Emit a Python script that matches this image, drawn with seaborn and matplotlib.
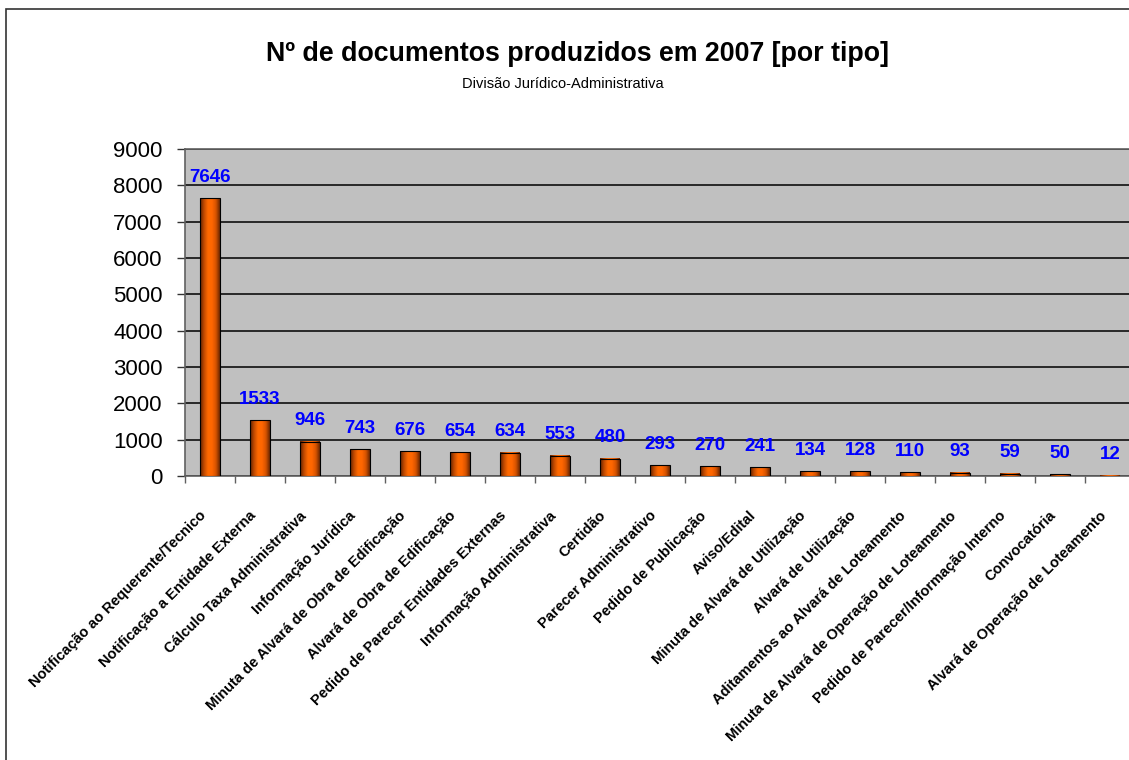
import numpy as np
import pandas as pd
import matplotlib
matplotlib.use('Agg')
import matplotlib.pyplot as plt
import seaborn as sns
from matplotlib.colors import LinearSegmentedColormap
from matplotlib.patches import Rectangle
from matplotlib.ticker import FixedLocator
from matplotlib.transforms import ScaledTranslation

categories = [
    'Notificação ao Requerente/Tecnico',
    'Notificação a Entidade Externa',
    'Cálculo Taxa Administrativa',
    'Informação Jurídica',
    'Minuta de Alvará de Obra de Edificação',
    'Alvará de Obra de Edificação',
    'Pedido de Parecer Entidades Externas',
    'Informação Administrativa',
    'Certidão',
    'Parecer Administrativo',
    'Pedido de Publicação',
    'Aviso/Edital',
    'Minuta de Alvará de Utilização',
    'Alvará de Utilização',
    'Aditamentos ao Alvará de Loteamento',
    'Minuta de Alvará de Operação de Loteamento',
    'Pedido de Parecer/Informação Interno',
    'Convocatória',
    'Alvará de Operação de Loteamento',
]
counts = [7646, 1533, 946, 743, 676, 654, 634, 553, 480, 293,
          270, 241, 134, 128, 110, 93, 59, 50, 12]
y_ticks = [0, 1000, 2000, 3000, 4000, 5000, 6000, 7000, 8000, 9000]

df = pd.DataFrame({'tipo': categories, 'n': counts})

sns.set_style('white')
plt.rcParams['font.family'] = ['Liberation Sans', 'DejaVu Sans']
plt.rcParams['text.color'] = 'black'
plt.rcParams['xtick.color'] = 'black'
plt.rcParams['ytick.color'] = 'black'

W, H = 1129, 760
fig = plt.figure(figsize=(W / 100, H / 100), dpi=100)
fig.patch.set_facecolor('white')

# outer chart border (the chart is cut on the right/bottom)
fig.patches.append(Rectangle((6 / W, -0.1), 1.2, 1 - 9.5 / H + 0.1,
                             transform=fig.transFigure, fill=False,
                             edgecolor='#333333', linewidth=1.2))

ax = fig.add_axes([185 / W, (H - 476) / H, 950 / W, 327 / H])
ax.set_facecolor('#C0C0C0')

sns.barplot(data=df, x='tipo', y='n', ax=ax, width=0.4,
            color='#FF6600', edgecolor='black', linewidth=0.8,
            saturation=1, zorder=3)

# shaded bars (dark edges, bright centre)
cmap = LinearSegmentedColormap.from_list(
    'bar', ['#5c2200', '#c24a00', '#ff6a00', '#ff6600', '#d85400', '#6a2600'])
grad = np.linspace(0, 1, 64).reshape(1, -1)
for p in ax.patches:
    x0, w, h = p.get_x(), p.get_width(), p.get_height()
    ax.imshow(grad, extent=[x0, x0 + w, 0, h], aspect='auto', cmap=cmap,
              zorder=2.9, interpolation='bicubic')
    p.set_facecolor('none')

ax.set_xlim(-0.5, len(categories) - 0.5)
ax.set_ylim(0, 9000)
ax.set_yticks(y_ticks)
ax.yaxis.grid(True, color='black', linewidth=1.1)
ax.set_axisbelow(True)

for s in ['left', 'bottom', 'top']:
    ax.spines[s].set_color('#606060')
    ax.spines[s].set_linewidth(1.2)
ax.spines['right'].set_visible(False)

ax.tick_params(axis='y', which='major', direction='out', length=6,
               width=1, color='#333333', labelsize=16, pad=10, left=True)
ax.xaxis.set_minor_locator(FixedLocator(np.arange(-0.5, len(categories), 1)))
ax.tick_params(axis='x', which='minor', direction='out', length=5,
               width=1, color='#606060', bottom=True)
ax.tick_params(axis='x', which='major', length=0, pad=27)
ax.set_xticks(range(len(categories)))
ax.set_xticklabels(categories, rotation=45, ha='right', va='center',
                   rotation_mode='anchor', fontsize=10.5, fontweight='bold')
shift = ScaledTranslation(-6 / 100, 0, fig.dpi_scale_trans)
for lab in ax.get_xticklabels():
    lab.set_transform(lab.get_transform() + shift)

ax.bar_label(ax.containers[0], padding=9, color='#0000FF',
             fontsize=13.5, fontweight='bold')

ax.set_xlabel('')
ax.set_ylabel('')

fig.text(577 / W, 1 - 54 / H, 'Nº de documentos produzidos em 2007 [por tipo]',
         ha='center', va='center', fontsize=19.3, fontweight='bold')
fig.text(563 / W, 1 - 84 / H, 'Divisão Jurídico-Administrativa',
         ha='center', va='center', fontsize=10.5)

plt.savefig('out.png', dpi=100)
